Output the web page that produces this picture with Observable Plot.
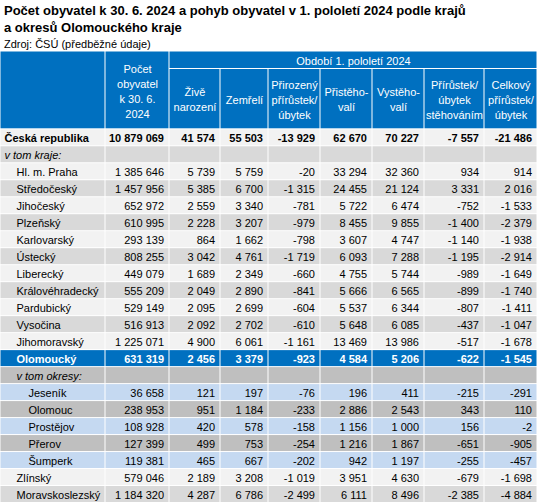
<!DOCTYPE html>
<html><head><meta charset="utf-8">
<script src="https://cdn.jsdelivr.net/npm/d3@7"></script>
<script src="https://cdn.jsdelivr.net/npm/@observablehq/plot@0.6"></script>
<style>
body{margin:0;background:#fff;font-family:Arial,"Liberation Sans",sans-serif;color:#000}
#title{font-size:13px;font-weight:bold;line-height:17px;padding:2px 0 0 4px;margin:0;height:34px}
#source{font-size:11px;line-height:14px;padding-left:4px;margin-top:1px;height:14px}
#chart svg{display:block}
</style></head><body>
<div id="title">Počet obyvatel k 30. 6. 2024 a pohyb obyvatel v 1. pololetí 2024 podle krajů<br>a okresů Olomouckého kraje</div>
<div id="source">Zdroj: ČSÚ (předběžné údaje)</div>
<div id="chart"></div>
<script>
// ---- data ----
const rowNames = ["Česká republika","v tom kraje:","Hl. m. Praha","Středočeský","Jihočeský","Plzeňský","Karlovarský","Ústecký","Liberecký","Královéhradecký","Pardubický","Vysočina","Jihomoravský","Olomoucký","v tom okresy:","Jeseník","Olomouc","Prostějov","Přerov","Šumperk","Zlínský","Moravskoslezský"];
const rowKinds = ["total","note","kraj","kraj","kraj","kraj","kraj","kraj","kraj","kraj","kraj","kraj","kraj","focus","subnote","okres","okres","okres","okres","okres","kraj","kraj"];
const population = [10879069,null,1385646,1457956,652972,610995,293139,808255,449079,555209,529149,516913,1225071,631319,null,36658,238953,108928,127399,119381,579046,1184320];
const births     = [41574,null,5739,5385,2559,2228,864,3042,1689,2049,2095,2092,4900,2456,null,121,951,420,499,465,2189,4287];
const deaths     = [55503,null,5759,6700,3340,3207,1662,4761,2349,2890,2699,2702,6061,3379,null,197,1184,578,753,667,3208,6786];
const natural    = [-13929,null,-20,-1315,-781,-979,-798,-1719,-660,-841,-604,-610,-1161,-923,null,-76,-233,-158,-254,-202,-1019,-2499];
const immigrants = [62670,null,33294,24455,5722,8455,3607,6093,4755,5666,5537,5648,13469,4584,null,196,2886,1156,1216,942,3951,6111];
const emigrants  = [70227,null,32360,21124,6474,9855,4747,7288,5744,6565,6344,6085,13986,5206,null,411,2543,1000,1867,1197,4630,8496];
const migration  = [-7557,null,934,3331,-752,-1400,-1140,-1195,-989,-899,-807,-437,-517,-622,null,-215,343,156,-651,-255,-679,-2385];
const totalChange= [-21486,null,914,2016,-1533,-2379,-1938,-2914,-1649,-1740,-1411,-1047,-1678,-1545,null,-291,110,-2,-905,-457,-1698,-4884];
const periodLabel = "Období 1. pololetí 2024";
const columnLabels = ["", "Počet\nobyvatel\nk 30. 6.\n2024", "Živě\nnarození", "Zemřelí", "Přirozený\npřírůstek/\núbytek", "Přistěho-\nvalí", "Vystěho-\nvalí", "Přírůstek/\núbytek\nstěhováním", "Celkový\npřírůstek/\núbytek"];

// ---- layout & style ----
const series = [population, births, deaths, natural, immigrants, emigrants, migration, totalChange];
const edges = [0,105,169,220,268,320,372,424,484,537];
const HEAD_TOP = -4.58, PERIOD_BOTTOM = -3.55;
const BLUE = "#0070C0", LIGHT = "#F2F2F2", MID = "#D9D9D9", GRAY = "#BFBFBF", LBLUE = "#C5D9F1";
const fmt = d3.formatLocale({decimal: ",", thousands: "\u00a0", grouping: [3], currency: ["", ""], minus: "-"}).format(",d");

function rowFill(i) {
  const k = rowKinds[i];
  if (k === "focus") return BLUE;
  if (k === "subnote") return GRAY;
  if (k === "okres") return (i - rowKinds.indexOf("okres")) % 2 === 0 ? LBLUE : GRAY;
  return i % 2 === 0 ? LIGHT : MID;
}
const indent = {total: 4, note: 4, kraj: 16, focus: 16, subnote: 16, okres: 28};

const cells = [];
cells.push({x1: edges[0], x2: edges[1], y1: HEAD_TOP, y2: 0, fill: BLUE});
cells.push({x1: edges[1], x2: edges[2], y1: HEAD_TOP, y2: 0, fill: BLUE});
cells.push({x1: edges[2], x2: edges[9], y1: HEAD_TOP, y2: PERIOD_BOTTOM, fill: BLUE});
for (let c = 2; c < 9; c++) cells.push({x1: edges[c], x2: edges[c+1], y1: PERIOD_BOTTOM, y2: 0, fill: BLUE});
rowNames.forEach((n, i) => {
  for (let c = 0; c < 9; c++) cells.push({x1: edges[c], x2: edges[c+1], y1: i, y2: i + 1, fill: rowFill(i)});
});

const headTexts = [{x: (edges[2] + edges[9]) / 2, y: (HEAD_TOP + PERIOD_BOTTOM) / 2, text: periodLabel}];
columnLabels.forEach((t, c) => {
  if (!t) return;
  if (c === 1) headTexts.push({x: (edges[1] + edges[2]) / 2, y: HEAD_TOP / 2, text: t});
  else headTexts.push({x: (edges[c] + edges[c+1]) / 2, y: PERIOD_BOTTOM / 2, text: t});
});

const labels = rowNames.map((n, i) => ({
  x: edges[0] + indent[rowKinds[i]], y: i + 0.5, text: n, kind: rowKinds[i],
  fill: rowKinds[i] === "focus" ? "white" : "black"
}));
const nums = [];
rowNames.forEach((n, i) => {
  series.forEach((s, c) => {
    if (s[i] == null) return;
    nums.push({x: edges[c + 2], y: i + 0.5, text: fmt(s[i]), kind: rowKinds[i],
      fill: rowKinds[i] === "focus" ? "white" : "black"});
  });
});
const isBold = d => d.kind === "total" || d.kind === "focus";
const isItalic = d => d.kind === "note" || d.kind === "subnote";

const chart = Plot.plot({
  width: 538,
  height: 453,
  margin: 0,
  x: {type: "linear", domain: [0, 538], range: [0, 538], axis: null},
  y: {type: "linear", domain: [HEAD_TOP, 22], range: [0, 451.5], axis: null},
  color: {type: "identity"},
  style: {fontFamily: "Arial, 'Liberation Sans', sans-serif", background: "white"},
  marks: [
    Plot.rect(cells, {x1: "x1", x2: "x2", y1: "y1", y2: "y2", fill: "fill", inset: 0.5}),
    Plot.text(headTexts, {x: "x", y: "y", text: "text", fill: "white", fontSize: 11, lineAnchor: "middle", lineHeight: 1.36}),
    Plot.text(labels.filter(d => !isBold(d) && !isItalic(d)), {x: "x", y: "y", text: "text", fill: "fill", fontSize: 11, textAnchor: "start", lineAnchor: "middle", dy: 0.5}),
    Plot.text(labels.filter(isBold), {x: "x", y: "y", text: "text", fill: "fill", fontSize: 11, fontWeight: "bold", textAnchor: "start", lineAnchor: "middle", dy: 0.5}),
    Plot.text(labels.filter(isItalic), {x: "x", y: "y", text: "text", fill: "fill", fontSize: 11, fontStyle: "italic", textAnchor: "start", lineAnchor: "middle", dy: 0.5}),
    Plot.text(nums.filter(d => !isBold(d)), {x: "x", y: "y", text: "text", fill: "fill", fontSize: 11, textAnchor: "end", lineAnchor: "middle", dx: -5.5, dy: 0.5}),
    Plot.text(nums.filter(isBold), {x: "x", y: "y", text: "text", fill: "fill", fontSize: 11, fontWeight: "bold", textAnchor: "end", lineAnchor: "middle", dx: -5.5, dy: 0.5})
  ]
});
document.getElementById("chart").appendChild(chart);
</script>
</body></html>
